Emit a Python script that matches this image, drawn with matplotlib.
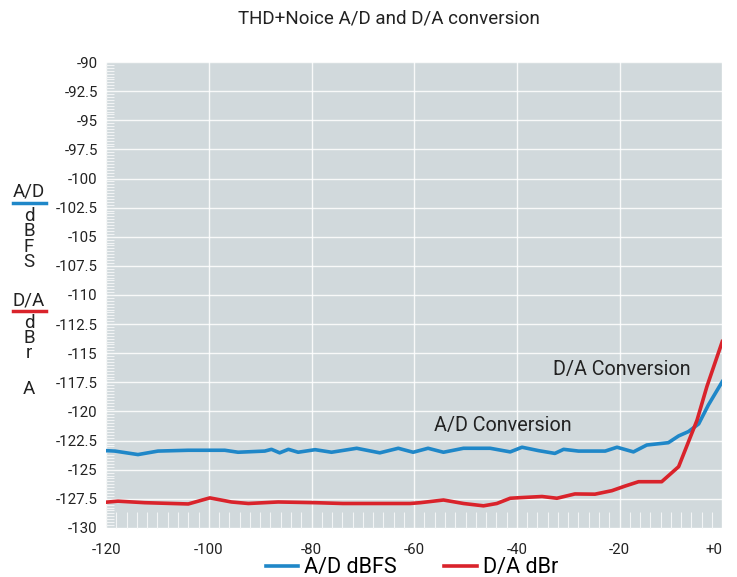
import matplotlib
matplotlib.use('Agg')
import matplotlib.pyplot as plt
from matplotlib.lines import Line2D
from matplotlib.ticker import MultipleLocator, FuncFormatter

plt.rcParams['font.family'] = ['Roboto', 'DejaVu Sans']

# A/D conversion (dBFS)
ad_x = [-120.3, -118.3, -113.8, -109.9, -104.0, -96.9, -94.3, -89.1, -87.8, -86.2, -84.5,
        -82.6, -79.3, -76.1, -71.2, -66.7, -63.1, -60.2, -57.3, -54.3, -50.4, -45.2,
        -41.3, -39.0, -35.8, -32.6, -30.9, -28.0, -22.8, -20.5, -17.3, -14.7, -10.5,
        -8.5, -6.6, -4.6, -2.7, 0.0]
ad_y = [-123.36, -123.4, -123.7, -123.4, -123.33, -123.33, -123.5, -123.4, -123.25, -123.55,
        -123.25, -123.5, -123.28, -123.5, -123.16, -123.55, -123.16, -123.5, -123.16, -123.5,
        -123.16, -123.16, -123.47, -123.07, -123.36, -123.6, -123.25, -123.4, -123.4, -123.07,
        -123.47, -122.88, -122.68, -122.1, -121.73, -121.07, -119.44, -117.44]

# D/A conversion (dBr)
da_x = [-120.3, -117.7, -112.5, -104.0, -99.8, -95.6, -92.3, -86.5, -79.3, -73.9, -60.8,
        -58.8, -54.3, -50.4, -46.5, -43.9, -41.3, -39.4, -35.1, -32.2, -28.7, -24.8,
        -21.5, -18.9, -16.3, -11.8, -8.5, -4.9, -3.0, 0.0]
da_y = [-127.8, -127.7, -127.83, -127.94, -127.42, -127.77, -127.9, -127.77, -127.83, -127.9,
        -127.9, -127.83, -127.6, -127.9, -128.1, -127.9, -127.45, -127.4, -127.3, -127.45,
        -127.08, -127.1, -126.8, -126.4, -126.03, -126.03, -124.74, -120.73, -117.87, -114.0]

blue = '#1f87c8'
red = '#d9232b'
txt = '#222222'

fig = plt.figure(figsize=(7.37, 5.77), dpi=100)
ax = fig.add_axes([0.144, 0.085, 0.836, 0.8075])
ax.set_facecolor('#d1d9dc')
for s in ax.spines.values():
    s.set_visible(False)

ax.plot(ad_x, ad_y, color=blue, lw=2.6, label='A/D dBFS', zorder=3)
ax.plot(da_x, da_y, color=red, lw=2.6, label='D/A dBr', zorder=3)

ax.set_xlim(-120, 0)
ax.set_ylim(-130, -90)
ax.xaxis.set_major_locator(MultipleLocator(20))
ax.xaxis.set_minor_locator(MultipleLocator(2))
ax.yaxis.set_major_locator(MultipleLocator(2.5))
ax.yaxis.set_minor_locator(MultipleLocator(0.25))
ax.xaxis.set_major_formatter(FuncFormatter(lambda v, p: '+0' if v == 0 else f'{v:g}'))
ax.yaxis.set_major_formatter(FuncFormatter(lambda v, p: f'{v:g}'))
ax.grid(True, which='major', color='white', lw=1.0, alpha=0.85)
ax.set_axisbelow(True)
ax.tick_params(which='major', length=0, labelsize=10.8, colors=txt)
ax.tick_params(axis='x', which='major', pad=11)
ax.tick_params(axis='y', which='major', pad=6)
ax.tick_params(axis='x', which='minor', direction='in', length=11.5, width=0.8, color='#f2f4f5')
ax.tick_params(axis='y', which='minor', direction='in', length=5.5, width=0.8, color='#f2f4f5')
fig.canvas.draw()
for t in ax.xaxis.get_major_ticks():
    if abs(t.get_loc()) < 1e-9:
        t.label1.set_horizontalalignment('right')

ax.text(-56.2, -121.2, 'A/D Conversion', fontsize=14.2, color=txt, va='center')
ax.text(-33.0, -116.4, 'D/A Conversion', fontsize=14.2, color=txt, va='center')

fig.text(0.528, 0.968, 'THD+Noice A/D and D/A conversion', ha='center', va='center',
         fontsize=13.5, color=txt)

# stacked axis label on the left
def ptxt(x, y, s):
    fig.text(x / 737, 1 - y / 577, s, ha='center', va='center', fontsize=13.5,
             color=txt, linespacing=0.82)

ptxt(29, 191, 'A/D')
fig.add_artist(Line2D([13 / 737, 46 / 737], [1 - 203 / 577] * 2, color=blue, lw=2.5))
ptxt(29, 239, 'd\nB\nF\nS')
ptxt(29, 300, 'D/A')
fig.add_artist(Line2D([13 / 737, 46 / 737], [1 - 311 / 577] * 2, color=red, lw=2.5))
ptxt(29, 338, 'd\nB\nr')
ptxt(29, 389, 'A')

fig.legend(loc='center', bbox_to_anchor=(0.559, 0.016), ncol=2, frameon=False,
           fontsize=15.5, handlelength=1.5, columnspacing=2.2, handletextpad=0.3)

fig.savefig('out.png', dpi=100)
